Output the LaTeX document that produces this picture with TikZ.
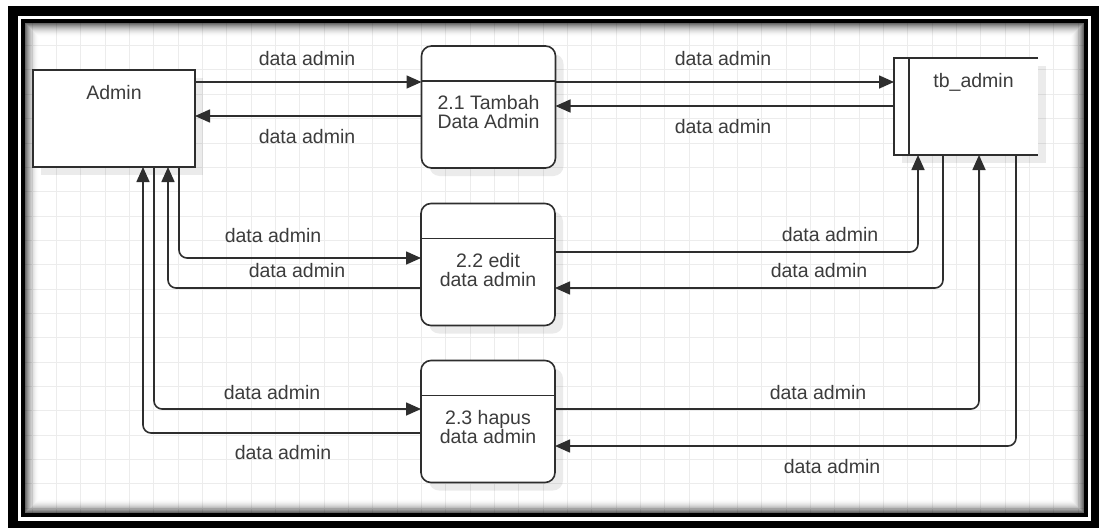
\documentclass[tikz,border=0pt]{standalone}
\usepackage{fontspec}
\setmainfont{Liberation Sans}
\usetikzlibrary{arrows.meta,shadows}
\definecolor{ink}{HTML}{2E2E2E}
\definecolor{txt}{HTML}{3C3C3C}
\definecolor{gridc}{HTML}{ECECEC}

\begin{document}
\begin{tikzpicture}[x=1pt,y=-1pt,
  lbl/.style={font=\fontsize{19.5}{19}\selectfont, text=txt, inner sep=0pt, align=center},
  edge/.style={draw=ink, line width=1.6pt},
  flow/.style={edge, rounded corners=8pt, -{Triangle[length=15pt,width=13pt]}},
  soft/.style={drop shadow={shadow xshift=8pt, shadow yshift=-8pt, opacity=0.08, fill=black}},
  proc/.style={edge, soft, fill=white, rounded corners=10pt, minimum width=134pt,
    minimum height=122pt, inner sep=0pt, outer sep=0pt},
  entity/.style={edge, soft, fill=white, minimum width=162pt, minimum height=97pt,
    inner sep=0pt, outer sep=0pt},
  storebox/.style={soft, fill=white, minimum width=144pt, minimum height=97pt,
    inner sep=0pt, outer sep=0pt}
]
\useasboundingbox (0,0) rectangle (1099,527);
\fill[white] (0,0) rectangle (1099,527);

% background grid
\begin{scope}
  \clip (25,23) rectangle (1083.5,513);
  \foreach \k in {0,...,45}
    \draw[gridc, line width=1pt] ({7.75+24.33*\k},0) -- ({7.75+24.33*\k},527);
  \foreach \k in {0,...,21}
    \draw[gridc, line width=1pt] (0,{21.25+24.35*\k}) -- (1099,{21.25+24.35*\k});
\end{scope}

% inner shading along the frame
\foreach \i in {0,...,13}{
  \pgfmathsetmacro{\op}{0.6*(1-\i/14)^2}
  \draw[black, opacity=\op, line width=1pt]
    ({25.5+\i},{23.5+\i}) rectangle ({1083-\i},{512.5-\i});
}

% double frame
\draw[black, line width=10pt] (13,11) rectangle (1096,526);
\draw[black, line width=4pt] (23,21) rectangle (1085.5,515);

% external entity, processes and data store
\node[entity] (admin) at (114,118.5) {};
\node[proc] (p1) at (488.5,107) {};
\node[proc] (p2) at (488,264.5) {};
\node[proc] (p3) at (488,421.5) {};
\node[storebox] (tb) at (966,106.5) {};

\foreach \p in {p1,p2,p3}
  \draw[edge] ([yshift=-35pt]\p.north west) -- ([yshift=-35pt]\p.north east);
\draw[edge] (tb.north east) -- (tb.north west) -- (tb.south west) -- (tb.south east);
\draw[edge] ([xshift=15pt]tb.north west) -- ([xshift=15pt]tb.south west);

\node[lbl] (admint) at ([yshift=-23pt]admin.north) {Admin};
\node[lbl] (tbt) at ([xshift=7.5pt,yshift=-24.5pt]tb.north) {tb\_admin};
\node[lbl] (p1t) at ([yshift=-5.5pt]p1.center) {2.1 Tambah\\Data Admin};
\node[lbl] (p2t) at ([yshift=-5.5pt]p2.center) {2.2 edit\\data admin};
\node[lbl] (p3t) at ([yshift=-5.5pt]p3.center) {2.3 hapus\\data admin};

% data flows
\draw[flow] (admin.east |- 0,82) -- (p1.west |- 0,82);
\draw[flow] (p1.west |- 0,116) -- (admin.east |- 0,116);
\draw[flow] (p1.east |- 0,82) -- (tb.west |- 0,82);
\draw[flow] (tb.west |- 0,106) -- (p1.east |- 0,106);

\draw[flow] (admin.south -| 179,0) |- (p2.west |- 0,258);
\draw[flow] (p2.west |- 0,288) -| (admin.south -| 168,0);
\draw[flow] (admin.south -| 154,0) |- (p3.west |- 0,409);
\draw[flow] (p3.west |- 0,433) -| (admin.south -| 143,0);

\draw[flow] (p2.east |- 0,252) -| (tb.south -| 918,0);
\draw[flow] (tb.south -| 943,0) |- (p2.east |- 0,288);
\draw[flow] (p3.east |- 0,409) -| (tb.south -| 979,0);
\draw[flow] (tb.south -| 1016,0) |- (p3.east |- 0,446);

% flow labels
\node[lbl] (l1) at (307,59) {data admin};
\node[lbl] (l2) at (307,137) {data admin};
\node[lbl] (l3) at (723,59) {data admin};
\node[lbl] (l4) at (723,127) {data admin};
\node[lbl] (l5) at (273,236) {data admin};
\node[lbl] (l6) at (297,271) {data admin};
\node[lbl] (l7) at (272,393) {data admin};
\node[lbl] (l8) at (283,453) {data admin};
\node[lbl] (l9) at (830,235) {data admin};
\node[lbl] (l10) at (819,271) {data admin};
\node[lbl] (l11) at (818,393) {data admin};
\node[lbl] (l12) at (832,467) {data admin};
\end{tikzpicture}
\end{document}
